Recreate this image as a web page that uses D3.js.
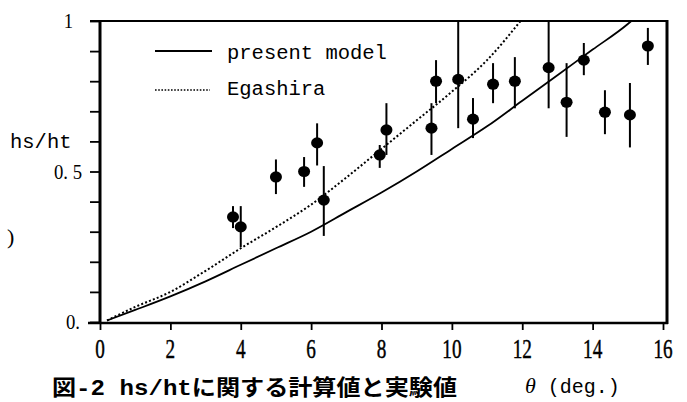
<!DOCTYPE html>
<html><head><meta charset="utf-8">
<script src="https://cdn.jsdelivr.net/npm/d3@7"></script>
<style>body{margin:0;background:#fff;}svg{display:block;}</style>
</head><body>
<svg id="c" width="687" height="402"></svg>
<script>
// ---- data ----
const presentTheta = [0.2,1,2,3,4,5,6,7,8,9,10,11,12,13,14,15,15.1];
const presentVal   = [0.005,0.04,0.085,0.135,0.19,0.245,0.30,0.365,0.43,0.50,0.575,0.65,0.735,0.82,0.905,0.99,1.0];
const egashiraTheta = [0.2,1,2,3,4,5,6,7,8,9,10,11,11.95];
const egashiraVal   = [0.005,0.05,0.10,0.17,0.245,0.315,0.39,0.48,0.575,0.67,0.765,0.87,1.0];
const expTheta = [3.78,4.0,5.0,5.8,6.17,6.36,7.95,8.14,9.42,9.55,10.18,10.6,11.17,11.79,12.75,13.26,13.75,14.35,15.06,15.57];
const expVal   = [0.349,0.316,0.482,0.50,0.595,0.405,0.555,0.638,0.644,0.80,0.806,0.674,0.79,0.80,0.845,0.73,0.87,0.697,0.688,0.917];
const expHigh  = [0.385,0.385,0.54,0.548,0.66,0.518,0.588,0.727,0.727,0.87,1.0,0.744,0.86,0.88,1.0,0.86,0.927,0.77,0.794,0.977];
const expLow   = [0.312,0.249,0.425,0.449,0.52,0.286,0.512,0.555,0.555,0.727,0.644,0.611,0.727,0.71,0.71,0.615,0.82,0.624,0.58,0.854];
const xTicks = [0,2,4,6,8,10,12,14,16];
const xTickLabels = ["0","2","4","6","8","10","12","14","16"];
const yTicks = [0,0.1,0.2,0.3,0.4,0.5,0.6,0.7,0.8,0.9,1];
const yLabelVals = [1,0.5,0];
const yLabelTexts = ["1","0. 5","0."];
const legendNames = ["present model","Egashira"];

const svg = d3.select("#c");
const x = d3.scaleLinear().domain([0,16]).range([100,663]);
const y = d3.scaleLinear().domain([0,1]).range([322,21]);

// axes ticks
const yAxis = d3.axisLeft(y).tickValues(yTicks).tickSize(10).tickFormat("");
const gy = svg.append("g").attr("transform","translate(100,0)").call(yAxis);
gy.select(".domain").remove();
gy.selectAll(".tick line").attr("stroke","#000").attr("stroke-width",1.8);

const xAxis = d3.axisBottom(x).tickValues(xTicks).tickSize(7).tickFormat("");
const gx = svg.append("g").attr("transform","translate(0,323)").call(xAxis);
gx.select(".domain").remove();
gx.selectAll(".tick line").attr("stroke","#000").attr("stroke-width",1.8);

// frame
svg.append("line").attr("x1",90).attr("x2",668).attr("y1",y(1)).attr("y2",y(1)).attr("stroke","#000").attr("stroke-width",2.2);
svg.append("line").attr("x1",88).attr("x2",668).attr("y1",323).attr("y2",323).attr("stroke","#000").attr("stroke-width",2.5);
svg.append("line").attr("x1",100).attr("x2",100).attr("y1",20).attr("y2",324).attr("stroke","#000").attr("stroke-width",3);
svg.append("line").attr("x1",667).attr("x2",667).attr("y1",20).attr("y2",324).attr("stroke","#000").attr("stroke-width",3);

// tick labels
const serif = "'Liberation Serif','DejaVu Serif',serif";
const mono = "'Liberation Mono',monospace";
xTicks.forEach((t,i)=>{
  svg.append("text").attr("transform",`translate(${x(t)},358) scale(0.8,1.1)`)
    .attr("text-anchor","middle").attr("font-family",serif).attr("font-size",24)
    .attr("fill","#000").attr("stroke","#000").attr("stroke-width",0.4).text(xTickLabels[i]);
});
yLabelVals.forEach((v,i)=>{
  svg.append("text").attr("transform",`translate(${i==1?82:(i==0?73:80)},${y(v)+7}) scale(0.85,1)`)
    .attr("text-anchor","end").attr("font-family",serif).attr("font-size",22)
    .attr("fill","#000").text(yLabelTexts[i]);
});
svg.append("text").attr("x",10).attr("y",148).attr("font-family",mono)
  .attr("font-size",20.5).attr("fill","#000").text("hs/ht");
svg.append("text").attr("x",7).attr("y",244).attr("font-family",serif)
  .attr("font-size",22).attr("fill","#000").text(")");

// curves
const line = d3.line().x(d=>x(d[0])).y(d=>y(d[1])).curve(d3.curveMonotoneX);
svg.append("path").attr("d",line(presentTheta.map((t,i)=>[t,presentVal[i]])))
  .attr("fill","none").attr("stroke","#000").attr("stroke-width",1.8);
svg.append("path").attr("d",line(egashiraTheta.map((t,i)=>[t,egashiraVal[i]])))
  .attr("fill","none").attr("stroke","#000").attr("stroke-width",2).attr("stroke-dasharray","2,2.2");

// error bars and points
expTheta.forEach((t,i)=>{
  svg.append("line").attr("x1",x(t)).attr("x2",x(t)).attr("y1",y(expHigh[i])).attr("y2",y(expLow[i]))
    .attr("stroke","#000").attr("stroke-width",2);
});
expTheta.forEach((t,i)=>{
  svg.append("ellipse").attr("cx",x(t)).attr("cy",y(expVal[i])).attr("rx",6).attr("ry",5.6).attr("fill","#000");
});

// legend
svg.append("line").attr("x1",155).attr("x2",212).attr("y1",51).attr("y2",51).attr("stroke","#000").attr("stroke-width",2);
svg.append("line").attr("x1",155).attr("x2",210).attr("y1",90).attr("y2",90).attr("stroke","#000").attr("stroke-width",1.6).attr("stroke-dasharray","1.6,1.6");
svg.append("text").attr("x",227).attr("y",59).attr("font-family",mono)
  .attr("font-size",20.5).attr("fill","#000").text(legendNames[0]);
svg.append("text").attr("x",227).attr("y",95).attr("font-family",mono)
  .attr("font-size",20.5).attr("fill","#000").text(legendNames[1]);

// caption
const cap = svg.append("text").attr("x",52).attr("y",395).attr("font-size",22).attr("fill","#000")
  .attr("textLength",405).attr("lengthAdjust","spacingAndGlyphs");
cap.append("tspan").attr("font-family","'Noto Sans CJK JP',sans-serif").attr("font-weight","bold").text("図");
cap.append("tspan").attr("font-family",mono).attr("font-weight","bold").text("-2 hs/ht");
cap.append("tspan").attr("font-family","'Noto Sans CJK JP',sans-serif").attr("font-weight","bold").text("に関する計算値と実験値");
const th = svg.append("text").attr("x",525).attr("y",393).attr("font-size",20).attr("fill","#000");
th.append("tspan").attr("font-family",serif).attr("font-style","italic").attr("font-size",22).text("θ");
th.append("tspan").attr("font-family",mono).text(" (deg.)");
</script>
</body></html>
